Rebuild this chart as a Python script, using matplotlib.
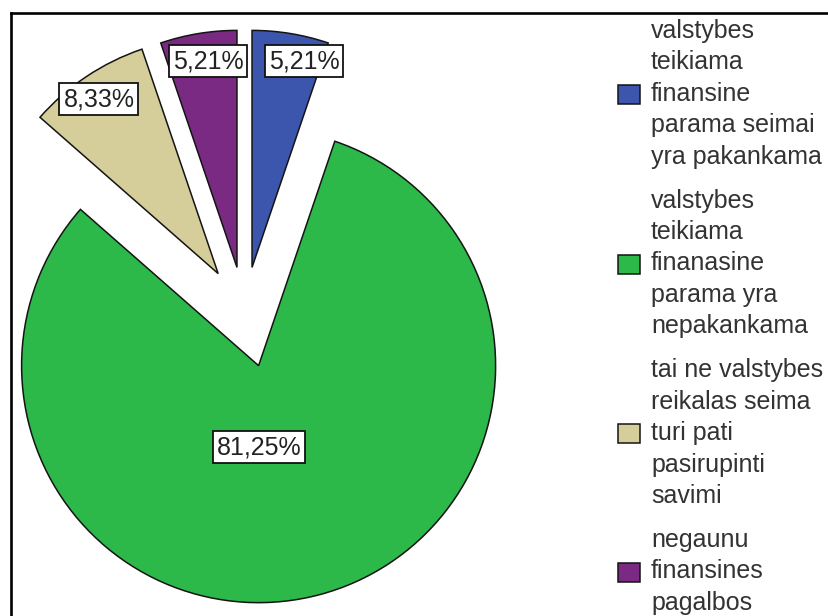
import matplotlib.pyplot as plt
from matplotlib.lines import Line2D

plt.rcParams['font.family'] = ['Liberation Sans', 'DejaVu Sans']

# data
labels = ['valstybes\nteikiama\nfinansine\nparama seimai\nyra pakankama',
          'valstybes\nteikiama\nfinanasine\nparama yra\nnepakankama',
          'tai ne valstybes\nreikalas seima\nturi pati\npasirupinti\nsavimi',
          'negaunu\nfinansines\npagalbos']
percents = [5.21, 81.25, 8.33, 5.21]
colors = ['#3C56AE', '#2DB84A', '#D5CE9B', '#7B2A83']

# layout (pixels, image coords from top-left)
W, H = 829, 616
cx, cy, R = 244.5, 313, 237
explode = [0.195, 0.23, 0.2, 0.195]   # fraction of radius
label_pos = [(304, 61), (259, 447), (99, 99), (208, 61)]

fig = plt.figure(figsize=(W / 100, H / 100), dpi=100)
ax = fig.add_axes([0, 0, 1, 1])

wedges, _ = ax.pie(percents, colors=colors, startangle=90, counterclock=False,
                   explode=[e * R for e in explode], center=(cx, H - cy), radius=R,
                   wedgeprops=dict(edgecolor='#141414', linewidth=1.1))
ax.set_xlim(0, W)
ax.set_ylim(0, H)
ax.set_aspect('equal')
ax.axis('off')

for p, (lx, ly) in zip(percents, label_pos):
    ax.text(lx, H - ly, f'{p:.2f}'.replace('.', ',') + '%', fontsize=18,
            ha='center', va='center', color='#222222',
            bbox=dict(boxstyle='square,pad=0.16', fc='white', ec='#111111', lw=1.3))

leg = ax.legend(wedges, labels, loc='upper left', frameon=False,
                bbox_to_anchor=(618 / W, 1 - 19 / H), bbox_transform=fig.transFigure,
                fontsize=18, borderpad=0, borderaxespad=0,
                handlelength=0.88, handleheight=0.8, handletextpad=0.44,
                labelspacing=0.8)
for t in leg.get_texts():
    t.set_linespacing(1.39)
    t.set_color('#333333')

# frame lines (top and left)
fig.add_artist(Line2D([11 / W, 1], [1 - 13 / H, 1 - 13 / H], transform=fig.transFigure,
                      color='black', lw=1.9))
fig.add_artist(Line2D([11 / W, 11 / W], [0, 1 - 13 / H], transform=fig.transFigure,
                      color='black', lw=1.9))

fig.savefig('out.png', dpi=100)
